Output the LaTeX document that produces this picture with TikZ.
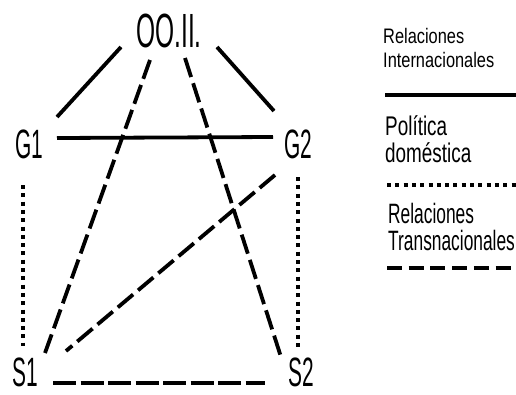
\documentclass[tikz,border=0pt]{standalone}
\usepackage{fontspec}
\setmainfont{Liberation Sans}
\newfontfamily\actorfont[FakeStretch=0.51]{Liberation Sans}
\newfontfamily\keyfontA[FakeStretch=0.78]{Liberation Sans}
\newfontfamily\keyfontB[FakeStretch=0.70]{Liberation Sans}
\newfontfamily\keyfontC[FakeStretch=0.62]{Liberation Sans}
\usetikzlibrary{positioning}

\tikzset{
    actor/.style={inner sep=0pt, font=\actorfont\fontsize{41}{44}\selectfont},
    keytext/.style={inner sep=0pt, anchor=base west, align=left},
    intl/.style={line width=3.8pt},
    domestic/.style={line width=3.8pt, dash pattern=on 4pt off 4.3pt},
    transnat/.style={line width=3.8pt, dash pattern=on 20pt off 6.5pt}
}

\begin{document}
\begin{tikzpicture}[x=1pt, y=-1pt]
    \useasboundingbox (0,0) rectangle (516,394);

    \node[actor, font=\actorfont\fontsize{48}{50}\selectfont] (oo) at (169,31) {OO.II.};
    \node[actor] (g1) at (29,144) {G1};
    \node[actor] (g2) at (298,144) {G2};
    \node[actor] (s1) at (25,372) {S1};
    \node[actor] (s2) at (301,372) {S2};

    \draw[intl] ([shift={(-48,16)}]oo.center) -- ([shift={(28,-27)}]g1.center);
    \draw[intl] ([shift={(48,16)}]oo.center) -- ([shift={(-24,-33)}]g2.center);
    \draw[intl] ([shift={(28,-6)}]g1.center) -- ([shift={(-25,-7)}]g2.center);

    \draw[domestic] ([shift={(-6,41)}]g1.center) -- ([shift={(-2,-26)}]s1.center);
    \draw[domestic] ([shift={(0,33)}]g2.center) -- ([shift={(-3,-23)}]s2.center);

    \draw[transnat] ([shift={(-19,29)}]oo.center) -- ([shift={(20,-19)}]s1.center);
    \draw[transnat] ([shift={(16,27)}]oo.center) -- ([shift={(-20,-15)}]s2.center);
    \draw[transnat] ([shift={(-23,31)}]g2.center) -- ([shift={(41,-21)}]s1.center);
    \draw[transnat, dash pattern=on 23pt off 4.5pt] ([shift={(28,11)}]s1.center) -- ([shift={(-36,11)}]s2.center);

    % legend
    \node[keytext, font=\keyfontA\fontsize{21}{24}\selectfont] (keyintl) at (383,67) {Relaciones\\Internacionales};
    \node[keytext, font=\keyfontB\fontsize{27}{27}\selectfont] (keydom) at (385,162) {Política\\doméstica};
    \node[keytext, font=\keyfontC\fontsize{28}{27}\selectfont] (keytrans) at (388,250) {Relaciones\\Transnacionales};

    \coordinate (kintl) at (385,95);
    \coordinate (kdom) at (387,185);
    \coordinate (ktrans) at (387,268);
    \draw[intl, line width=4.5pt] (kintl) -- ++(131,0);
    \draw[domestic] (kdom) -- ++(129,0);
    \draw[transnat, dash pattern=on 15pt off 6.7pt] (ktrans) -- ++(129,0);
\end{tikzpicture}
\end{document}
